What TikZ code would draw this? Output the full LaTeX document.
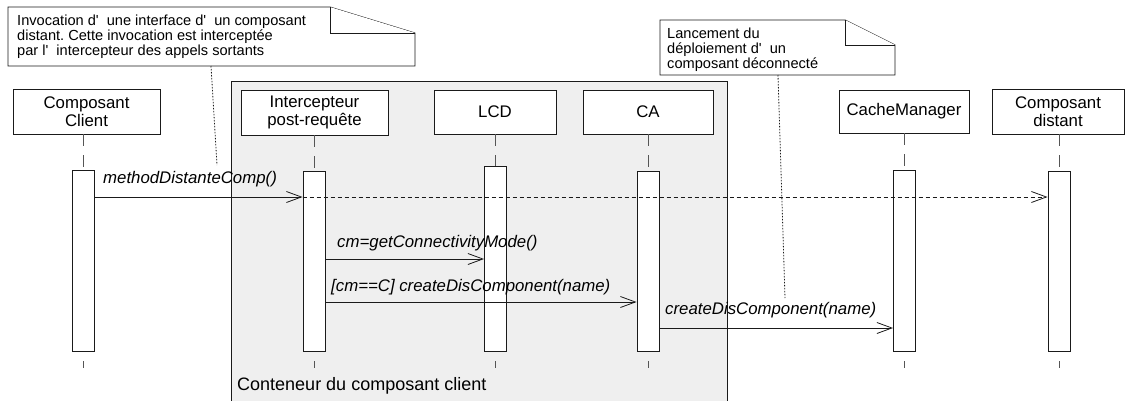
\documentclass[tikz,border=0pt]{standalone}
\usepackage{fontspec}
\setmainfont{Liberation Sans}
\usetikzlibrary{arrows.meta}
\definecolor{ln}{HTML}{1A1A1A}
\definecolor{contfill}{HTML}{EFEFEF}
\definecolor{llc}{HTML}{555555}
\frenchspacing
\begin{document}
\begin{tikzpicture}[x=1pt,y=-1pt,
  head/.style={draw=ln, fill=white, line width=0.9pt, inner sep=0pt, align=center,
    font=\fontsize{16.8}{18}\selectfont},
  act/.style={draw=ln, fill=white, line width=0.9pt, inner sep=0pt, minimum width=22pt},
  lifeline/.style={draw=llc, line width=0.9pt, dash pattern=on 12pt off 9pt},
  stub/.style={draw=llc, line width=0.9pt},
  msg/.style={draw=ln, line width=0.8pt, -{Straight Barb[length=15pt,width=11pt]}},
  msgdash/.style={msg, dash pattern=on 4pt off 3pt},
  lbl/.style={font=\fontsize{16.8}{18}\selectfont\itshape, inner sep=0pt, anchor=base west},
  notebox/.style={draw=ln, fill=white, line width=0.9pt, line join=miter},
  notetext/.style={font=\fontsize{14.6}{15}\selectfont, inner sep=0pt, anchor=base west, align=left},
  notelink/.style={draw=ln, line width=0.8pt, dash pattern=on 1.5pt off 1.5pt}]
\useasboundingbox (0,0) rectangle (1125,400);
% container
\draw[draw=ln, fill=contfill, line width=0.9pt] (231,81) rectangle (727,403);
\node[font=\fontsize{18}{20}\selectfont, inner sep=0pt, anchor=base west] (contlbl) at (237,390) {Conteneur du composant client};
% notes
\draw[notebox] (8,7) -- (330,7) -- (415,33) -- (415,66) -- (8,66) -- cycle;
\draw[notebox] (330,7) -- (330,33) -- (415,33);
\node[notetext] (note1) at (17,55) {Invocation d\textquotesingle\ \ une interface d\textquotesingle\ \ un composant\\distant. Cette invocation est interceptée\\par l\textquotesingle\ \ intercepteur des appels sortants};
\draw[notebox] (660,20) -- (845,20) -- (895,45) -- (895,75) -- (660,75) -- cycle;
\draw[notebox] (845,20) -- (845,45) -- (895,45);
\node[notetext] (note2) at (667,68) {Lancement du\\déploiement d\textquotesingle\ \ un\\composant déconnecté};
% heads
\node[head, minimum width=147pt, minimum height=45pt] (hCL) at (86.5,111.5) {Composant\\Client};
\node[head, minimum width=147pt, minimum height=45pt] (hIP) at (314.5,112.5) {Intercepteur\\post-requête};
\node[head, minimum width=122pt, minimum height=44pt] (hLCD) at (495,112) {LCD};
\node[head, minimum width=130pt, minimum height=44pt] (hCA) at (648,112) {CA};
\node[head, minimum width=130pt, minimum height=43pt] (hCM) at (904,111.5) {CacheManager};
\node[head, minimum width=132pt, minimum height=45pt] (hCD) at (1058,111.5) {Composant\\distant};
% activations
\node[act, minimum height=181pt] (aCL) at (83,260.5) {};
\node[act, minimum height=180pt] (aIP) at (314,261) {};
\node[act, minimum height=185pt] (aLCD) at (495.5,258.5) {};
\node[act, minimum height=180pt] (aCA) at (648,261) {};
\node[act, minimum height=181pt] (aCM) at (904.5,260.5) {};
\node[act, minimum height=180pt] (aCD) at (1059,261) {};
% lifelines
\foreach \h/\a in {hCL/aCL, hIP/aIP, hLCD/aLCD, hCA/aCA, hCM/aCM, hCD/aCD}{
  \draw[lifeline] (\a.north |- \h.south) -- (\a.north);
  \draw[stub] (\a.south) ++(0,10) -- ++(0,7);
}
% messages
\coordinate (m1) at (0,197);
\coordinate (m2) at (0,259);
\coordinate (m3) at (0,302);
\coordinate (m4) at (0,328);
\draw[msg] (aCL.east |- m1) -- (aIP.west |- m1);
\draw[msgdash] (aIP.west |- m1) -- (aCD.west |- m1);
\node[lbl] (l1) at (103,183) {methodDistanteComp()};
\draw[msg] (aIP.east |- m2) -- (aLCD.west |- m2);
\node[lbl] (l2) at (337,247) {cm=getConnectivityMode()};
\draw[msg] (aIP.east |- m3) -- (aCA.west |- m3);
\node[lbl] (l3) at (331,291) {[cm==C] createDisComponent(name)};
\draw[msg] (aCA.east |- m4) -- (aCM.west |- m4);
\node[lbl] (l4) at (665,314) {createDisComponent(name)};
% note links
\coordinate (n1a) at (211,66);
\coordinate (n1b) at (217,165);
\draw[notelink] (n1a) -- (n1b);
\coordinate (n2a) at (778,75);
\coordinate (n2b) at (785,298);
\draw[notelink] (n2a) -- (n2b);
\end{tikzpicture}
\end{document}
